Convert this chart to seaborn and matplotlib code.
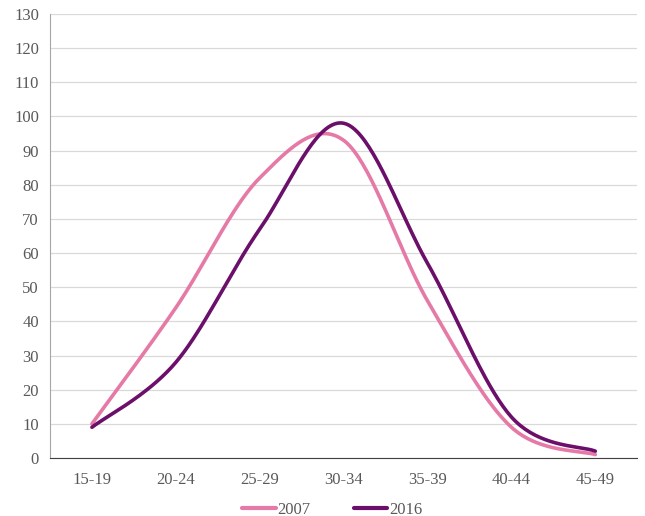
import numpy as np
import pandas as pd
import seaborn as sns
import matplotlib.pyplot as plt

age_groups = ["15-19", "20-24", "25-29", "30-34", "35-39", "40-44", "45-49"]
rate_2007 = [10, 44, 82, 93, 46, 9, 1]
rate_2016 = [9, 28, 67, 98, 57, 12, 2]
series_names = ["2007", "2016"]
colors = {"2007": "#E57AA6", "2016": "#6B0F6B"}


def smooth(xs, ys, n=40):
    # Excel-style smoothed line: Catmull-Rom through the points
    px = np.array(xs, dtype=float)
    py = np.array(ys, dtype=float)
    px = np.concatenate([[px[0]], px, [px[-1]]])
    py = np.concatenate([[py[0]], py, [py[-1]]])
    out_x, out_y = [], []
    t = np.linspace(0, 1, n)
    for i in range(1, len(px) - 2):
        x0, x1, x2, x3 = px[i - 1], px[i], px[i + 1], px[i + 2]
        y0, y1, y2, y3 = py[i - 1], py[i], py[i + 1], py[i + 2]
        cx1, cy1 = x1 + (x2 - x0) / 6, y1 + (y2 - y0) / 6
        cx2, cy2 = x2 - (x3 - x1) / 6, y2 - (y3 - y1) / 6
        bx = (1 - t) ** 3 * x1 + 3 * (1 - t) ** 2 * t * cx1 + 3 * (1 - t) * t ** 2 * cx2 + t ** 3 * x2
        by = (1 - t) ** 3 * y1 + 3 * (1 - t) ** 2 * t * cy1 + 3 * (1 - t) * t ** 2 * cy2 + t ** 3 * y2
        out_x.extend(bx)
        out_y.extend(by)
    return out_x, out_y


frames = []
for name, vals in zip(series_names, [rate_2007, rate_2016]):
    sx, sy = smooth(range(len(age_groups)), vals)
    frames.append(pd.DataFrame({"x": sx, "y": sy, "year": name}))
df = pd.concat(frames, ignore_index=True)

sns.set_style("white")
plt.rcParams["font.family"] = ["Liberation Serif", "DejaVu Serif"]

fig, ax = plt.subplots(figsize=(6.45, 5.16), dpi=100)
fig.subplots_adjust(left=0.0775, right=0.988, top=0.973, bottom=0.1124)

sns.lineplot(data=df, x="x", y="y", hue="year", palette=colors, sort=False,
             estimator=None, linewidth=2.6, ax=ax, legend=False)

ax.set_xlim(-0.5, 6.5)
ax.set_ylim(0, 130)
ax.set_yticks(range(0, 131, 10))
ax.set_xticks(range(len(age_groups)))
ax.set_xticklabels(age_groups)
ax.set_xlabel("")
ax.set_ylabel("")
ax.grid(axis="y", color="#D9D9D9", linewidth=0.9)
ax.set_axisbelow(True)
for s in ["top", "right"]:
    ax.spines[s].set_visible(False)
ax.spines["left"].set_color("#A6A6A6")
ax.spines["bottom"].set_color("#404040")
ax.tick_params(axis="both", length=0, labelsize=12, labelcolor="#595959")
ax.tick_params(axis="x", pad=10)
ax.tick_params(axis="y", pad=8)

handles = [plt.Line2D([], [], color=colors[n], linewidth=3) for n in series_names]
fig.legend(handles, series_names, loc="lower center", ncol=2, frameon=False,
           bbox_to_anchor=(0.515, -0.032), fontsize=12, handlelength=2.0,
           handletextpad=0.1, columnspacing=2.6, labelcolor="#595959")

fig.savefig("out.png", dpi=100)
